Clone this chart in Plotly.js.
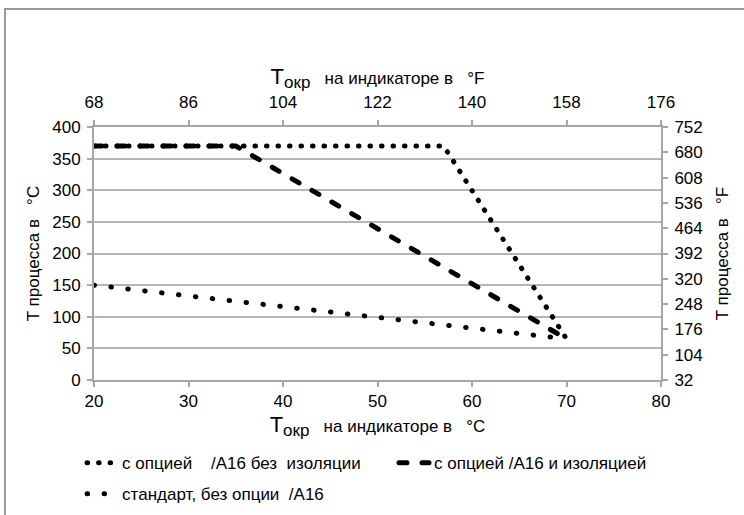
<!DOCTYPE html>
<html>
<head>
<meta charset="utf-8">
<script src="https://cdn.plot.ly/plotly-3.0.1.min.js"></script>
<style>
  html, body { margin: 0; padding: 0; background: #fff; }
  #wrap { position: relative; width: 744px; height: 515px; overflow: hidden; }
  #chart { width: 744px; height: 515px; }
  #frame { position: absolute; left: 4px; top: 8px; width: 900px; height: 700px;
           border-top: 2px solid #9a9a9a; border-left: 2px solid #9a9a9a; pointer-events: none; }
  path.js-line { stroke-linecap: round; }
</style>
</head>
<body>
<div id="wrap">
  <div id="chart"></div>
  <div id="frame"></div>
</div>
<script>
// ---- data ----
var noInsulX = [20, 57, 70];
var noInsulY = [370, 370, 65];
var insulX = [20, 35, 70];
var insulY = [370, 370, 65];
var stdX = [20, 70];
var stdY = [150, 65];

var seriesNames = [
  'с опцией\u00a0\u00a0\u00a0 /A16 без\u00a0 изоляции',
  'с опцией /A16 и изоляцией',
  'стандарт, без опции\u00a0 /A16'
];

var xRangeC = [20, 80];
var yRangeC = [0, 400];
var xTickStepC = 10;
var yTickStepC = 50;
var nTicksF = 10;   // number of intervals on the °F axes

function cToF(c) { return c * 1.8 + 32; }

var FONT = 'Liberation Sans, Arial, sans-serif';
var AXC = '#a6a6a6';
var PAD = '\u00a0\u00a0\u00a0\u00a0\u00a0\u00a0';

var traces = [
  { x: noInsulX, y: noInsulY, name: seriesNames[0] + PAD, mode: 'lines',
    line: { color: '#000', width: 5, dash: '0.5px,11px' }, hoverinfo: 'skip', legend: 'legend' },
  { x: insulX, y: insulY, name: seriesNames[1], mode: 'lines',
    line: { color: '#000', width: 5, dash: '8px,15px' }, hoverinfo: 'skip', legend: 'legend' },
  { x: stdX, y: stdY, name: seriesNames[2], mode: 'lines',
    line: { color: '#000', width: 5, dash: '0.5px,16.5px' }, hoverinfo: 'skip', legend: 'legend2' },
  // invisible carrier for the °F axes (derived from the °C ranges)
  { x: xRangeC.map(cToF), y: yRangeC.map(cToF), xaxis: 'x2', yaxis: 'y2', mode: 'lines',
    line: { width: 0, color: 'rgba(0,0,0,0)' }, opacity: 0, showlegend: false, hoverinfo: 'skip' }
];

var tickFont = { family: FONT, size: 17, color: '#000' };
var titleFont = { family: FONT, size: 17, color: '#000' };

function xTitle(unit) {
  return '<span style="font-size:22px">T</span><sub><span style="font-size:17px">окр</span></sub>\u00a0\u00a0 на индикаторе в\u00a0\u00a0 ' + unit;
}

var legendFont = { family: FONT, size: 17, color: '#000' };

var xRangeF = [cToF(xRangeC[0]), cToF(xRangeC[1])];
var yRangeF = [cToF(yRangeC[0]), cToF(yRangeC[1])];

var layout = {
  width: 744, height: 515,
  margin: { l: 94, r: 83, t: 127, b: 135, autoexpand: false },
  paper_bgcolor: '#fff', plot_bgcolor: '#fff',
  font: { family: FONT, color: '#000' },
  showlegend: true,
  legend: {
    orientation: 'h', x: -0.021, y: -0.258, xanchor: 'left', yanchor: 'top',
    font: legendFont, bgcolor: 'rgba(0,0,0,0)'
  },
  legend2: {
    orientation: 'h', x: -0.021, y: -0.38, xanchor: 'left', yanchor: 'top',
    font: legendFont, bgcolor: 'rgba(0,0,0,0)'
  },
  xaxis: {
    range: xRangeC, dtick: xTickStepC, tick0: xRangeC[0], automargin: false,
    showgrid: false, zeroline: false, showline: true, linecolor: AXC, linewidth: 2,
    ticks: 'outside', ticklen: 5, tickwidth: 2, tickcolor: AXC,
    tickfont: tickFont,
    title: { text: xTitle('°C'), font: titleFont, standoff: 10 }
  },
  yaxis: {
    range: yRangeC, dtick: yTickStepC, tick0: 0, automargin: false,
    showgrid: true, gridcolor: '#b5b5b5', gridwidth: 2,
    zeroline: false, showline: true, linecolor: AXC, linewidth: 2,
    ticks: 'outside', ticklen: 5, tickwidth: 2, tickcolor: AXC, ticklabelstandoff: 3,
    tickfont: tickFont,
    title: { text: 'T процесса в\u00a0\u00a0 °C', font: titleFont, standoff: 8 }
  },
  xaxis2: {
    overlaying: 'x', side: 'top', anchor: 'y', automargin: false,
    range: xRangeF, dtick: xTickStepC * 1.8, tick0: xRangeF[0],
    showgrid: false, zeroline: false, showline: true, linecolor: AXC, linewidth: 2,
    ticks: 'outside', ticklen: 5, tickwidth: 2, tickcolor: AXC, ticklabelstandoff: 5,
    tickfont: tickFont,
    title: { text: xTitle('°F'), font: titleFont, standoff: 4 }
  },
  yaxis2: {
    overlaying: 'y', side: 'right', anchor: 'x', automargin: false,
    range: yRangeF, dtick: (yRangeF[1] - yRangeF[0]) / nTicksF, tick0: yRangeF[0],
    showgrid: false, zeroline: false, showline: true, linecolor: AXC, linewidth: 2,
    ticks: 'outside', ticklen: 5, tickwidth: 2, tickcolor: AXC, ticklabelstandoff: 3,
    tickfont: tickFont,
    title: { text: 'T процесса в\u00a0\u00a0 °F', font: titleFont, standoff: 14 }
  }
};

Plotly.newPlot('chart', traces, layout, { displayModeBar: false, staticPlot: true });
</script>
</body>
</html>
